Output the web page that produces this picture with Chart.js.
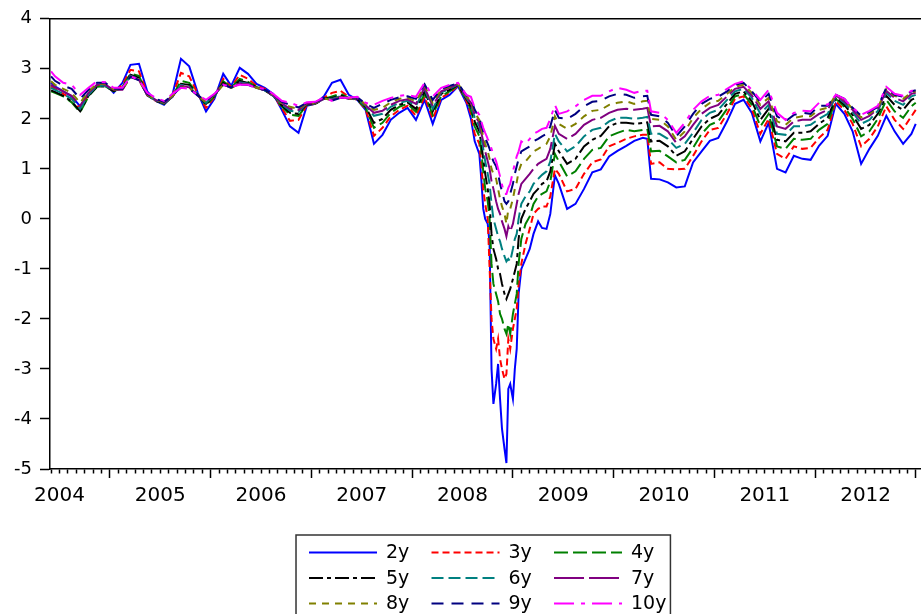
<!DOCTYPE html>
<html>
<head>
<meta charset="utf-8">
<script src="https://cdn.jsdelivr.net/npm/chart.js@4.4.1/dist/chart.umd.min.js"></script>
<style>
  html, body { margin: 0; padding: 0; background: #fff; overflow: hidden; }
  #wrap { width: 922px; height: 614px; position: relative; }
</style>
</head>
<body>
<div id="wrap"><canvas id="breakevenChart"></canvas></div>
<script>
// observation dates (monthly, weekly around the 2008 crash)
const dates = [
  '2004-06-01','2004-06-15','2004-07-15','2004-08-15','2004-09-15','2004-10-15','2004-11-15','2004-12-15',
  '2005-01-15','2005-02-15','2005-03-15','2005-04-15','2005-05-15','2005-06-15','2005-07-15','2005-08-15',
  '2005-09-15','2005-10-15','2005-11-15','2005-12-15','2006-01-15','2006-02-15','2006-03-15','2006-04-15',
  '2006-05-15','2006-06-15','2006-07-15','2006-08-15','2006-09-15','2006-10-15','2006-11-15','2006-12-15',
  '2007-01-15','2007-02-15','2007-03-15','2007-04-15','2007-05-15','2007-06-15','2007-07-15','2007-08-15',
  '2007-09-15','2007-10-15','2007-11-15','2007-12-15','2008-01-15','2008-02-15','2008-03-15','2008-04-15',
  '2008-05-15','2008-06-15','2008-07-15',
  '2008-08-01','2008-08-15','2008-09-01','2008-09-08','2008-09-15','2008-09-22','2008-10-01','2008-10-08',
  '2008-10-15','2008-10-22','2008-11-01','2008-11-08','2008-11-15','2008-11-22','2008-12-01','2008-12-08',
  '2008-12-15','2008-12-22','2009-01-01','2009-01-08','2009-01-15','2009-01-22','2009-02-01','2009-02-15',
  '2009-03-01','2009-03-15','2009-04-01','2009-04-15','2009-05-01','2009-05-15','2009-06-01','2009-06-15',
  '2009-07-15','2009-08-15','2009-09-15','2009-10-15','2009-11-15','2009-12-15','2010-01-15','2010-02-15',
  '2010-03-15','2010-04-15','2010-05-01','2010-05-15','2010-06-15','2010-07-15','2010-08-15','2010-09-15',
  '2010-10-15','2010-11-15','2010-12-15','2011-01-15','2011-02-15','2011-03-15','2011-04-15','2011-05-15',
  '2011-06-15','2011-07-15','2011-08-15','2011-09-15','2011-10-15','2011-11-15','2011-12-15','2012-01-15',
  '2012-02-15','2012-03-15','2012-04-15','2012-05-15','2012-06-15','2012-07-15','2012-08-15','2012-09-15',
  '2012-10-15','2012-11-15','2012-12-15','2012-12-31'
];

const y2 = [
  2.72, 2.65, 2.55, 2.45, 2.25, 2.5, 2.68, 2.7, 2.52, 2.72, 3.08, 3.1, 2.55, 2.36, 2.28, 2.48, 3.2, 3.05, 2.52, 2.15,
  2.4, 2.9, 2.66, 3.02, 2.9, 2.7, 2.62, 2.5, 2.18, 1.85, 1.72, 2.26, 2.3, 2.45, 2.72, 2.78, 2.48, 2.38, 2.18, 1.5,
  1.68, 1.98, 2.12, 2.22, 1.98, 2.38, 1.9, 2.38, 2.48, 2.65, 2.32,
  2.0, 1.55, 1.3, 0.8, 0.2, 0.0, -0.1, -0.5, -3.0, -3.7, -3.3, -2.9, -3.6, -4.2, -4.6, -4.88, -3.4, -3.3, -3.6, -3.0,
  -2.6, -1.5, -1.0, -0.8, -0.6, -0.3, -0.05, -0.18, -0.2, 0.1, 0.87, 0.7,
  0.2, 0.3, 0.6, 0.93, 0.99, 1.25, 1.36, 1.46, 1.56, 1.62, 1.6, 0.8, 0.79, 0.73, 0.63, 0.65, 1.13, 1.35, 1.56, 1.62,
  1.95, 2.3, 2.38, 2.12, 1.55, 1.92, 1.0, 0.93, 1.26, 1.2, 1.18, 1.46, 1.66, 2.3, 2.1, 1.75, 1.1, 1.4, 1.66, 2.06,
  1.75, 1.5, 1.7, 1.9
];
const y3 = [
  2.65, 2.6, 2.5, 2.4, 2.2, 2.48, 2.66, 2.68, 2.54, 2.68, 2.98, 2.95, 2.5, 2.36, 2.3, 2.46, 2.92, 2.85, 2.5, 2.22,
  2.43, 2.8, 2.64, 2.88, 2.8, 2.66, 2.6, 2.48, 2.22, 1.96, 1.98, 2.27, 2.3, 2.42, 2.52, 2.56, 2.44, 2.38, 2.2, 1.66,
  1.82, 2.05, 2.18, 2.26, 2.06, 2.44, 2.0, 2.42, 2.52, 2.66, 2.36,
  2.1, 1.7, 1.5, 1.1, 0.6, 0.3, 0.0, -1.0, -2.0, -2.4, -2.6, -2.4, -2.8, -3.0, -3.2, -3.1, -2.4, -2.6, -2.2, -2.0,
  -1.8, -1.3, -0.9, -0.5, -0.2, 0.1, 0.2, 0.25, 0.25, 0.45, 1.0, 0.9,
  0.55, 0.6, 0.9, 1.13, 1.19, 1.45, 1.52, 1.6, 1.65, 1.68, 1.68, 1.1, 1.13, 1.0, 0.99, 1.0, 1.26, 1.55, 1.78, 1.82,
  2.1, 2.4, 2.45, 2.2, 1.7, 2.0, 1.3, 1.2, 1.45, 1.4, 1.42, 1.62, 1.78, 2.35, 2.18, 1.9, 1.45, 1.6, 1.85, 2.25,
  1.98, 1.8, 2.05, 2.18
];
const y4 = [
  2.55, 2.52, 2.45, 2.33, 2.13, 2.45, 2.64, 2.65, 2.55, 2.64, 2.9, 2.86, 2.48, 2.36, 2.3, 2.45, 2.76, 2.72, 2.48, 2.27,
  2.45, 2.75, 2.63, 2.8, 2.74, 2.64, 2.58, 2.46, 2.25, 2.08, 2.06, 2.28, 2.3, 2.4, 2.45, 2.5, 2.42, 2.38, 2.22, 1.82,
  1.92, 2.12, 2.24, 2.3, 2.14, 2.5, 2.08, 2.46, 2.55, 2.67, 2.38,
  2.18, 1.85, 1.65, 1.35, 0.95, 0.6, 0.35, 0.0, -0.9, -1.3, -1.5, -1.65, -1.9, -2.0, -2.2, -2.3, -2.1, -2.3, -1.9, -1.7,
  -1.5, -0.9, -0.4, -0.1, 0.05, 0.3, 0.45, 0.5, 0.55, 0.75, 1.3, 1.15,
  0.85, 0.95, 1.2, 1.38, 1.42, 1.65, 1.72, 1.78, 1.75, 1.78, 1.8, 1.35, 1.36, 1.25, 1.13, 1.18, 1.42, 1.7, 1.88, 1.95,
  2.2, 2.45, 2.5, 2.28, 1.85, 2.1, 1.45, 1.4, 1.6, 1.58, 1.6, 1.78, 1.9, 2.4, 2.24, 2.0, 1.65, 1.75, 2.0, 2.38,
  2.15, 2.02, 2.25, 2.32
];
const y5 = [
  2.57, 2.54, 2.46, 2.35, 2.15, 2.46, 2.64, 2.65, 2.56, 2.62, 2.88, 2.82, 2.47, 2.36, 2.3, 2.44, 2.7, 2.68, 2.47, 2.3,
  2.46, 2.72, 2.62, 2.76, 2.72, 2.63, 2.57, 2.46, 2.27, 2.12, 2.1, 2.29, 2.3, 2.4, 2.42, 2.47, 2.41, 2.39, 2.24, 1.92,
  2.0, 2.18, 2.28, 2.33, 2.2, 2.55, 2.15, 2.5, 2.58, 2.68, 2.4,
  2.24, 1.95, 1.75, 1.5, 1.2, 0.9, 0.6, 0.3, -0.3, -0.6, -0.8, -1.0, -1.1, -1.3, -1.5, -1.6, -1.5, -1.4, -1.2, -1.05,
  -0.9, -0.4, 0.0, 0.2, 0.35, 0.5, 0.6, 0.7, 0.75, 0.95, 1.5, 1.35,
  1.1, 1.2, 1.45, 1.58, 1.66, 1.85, 1.92, 1.92, 1.9, 1.92, 1.93, 1.55, 1.56, 1.45, 1.26, 1.35, 1.6, 1.85, 2.0, 2.08,
  2.3, 2.5, 2.55, 2.35, 1.98, 2.2, 1.58, 1.55, 1.72, 1.72, 1.75, 1.9, 2.02, 2.43, 2.28, 2.08, 1.8, 1.88, 2.1, 2.46,
  2.28, 2.18, 2.38, 2.42
];
const y6 = [
  2.62, 2.58, 2.5, 2.4, 2.2, 2.48, 2.66, 2.66, 2.57, 2.6, 2.86, 2.8, 2.47, 2.37, 2.31, 2.44, 2.68, 2.65, 2.46, 2.32,
  2.47, 2.7, 2.62, 2.73, 2.7, 2.62, 2.57, 2.46, 2.29, 2.16, 2.14, 2.3, 2.31, 2.4, 2.4, 2.45, 2.4, 2.4, 2.26, 2.06,
  2.1, 2.24, 2.32, 2.36, 2.26, 2.59, 2.2, 2.53, 2.6, 2.69, 2.42,
  2.28, 2.02, 1.85, 1.62, 1.4, 1.15, 0.9, 0.7, 0.3, 0.0, -0.2, -0.35, -0.45, -0.6, -0.75, -0.85, -0.8, -0.85, -0.6, -0.4,
  -0.3, 0.0, 0.3, 0.45, 0.55, 0.7, 0.8, 0.88, 0.95, 1.15, 1.7, 1.55,
  1.35, 1.45, 1.65, 1.78, 1.82, 1.95, 2.02, 2.02, 2.0, 2.02, 2.04, 1.7, 1.7, 1.6, 1.42, 1.5, 1.72, 1.98, 2.12, 2.18,
  2.38, 2.55, 2.6, 2.42, 2.1, 2.28, 1.7, 1.68, 1.85, 1.85, 1.88, 2.0, 2.1, 2.45, 2.32, 2.14, 1.9, 1.98, 2.16, 2.52,
  2.36, 2.28, 2.45, 2.48
];
const y7 = [
  2.68, 2.63, 2.55, 2.46, 2.26, 2.52, 2.68, 2.68, 2.58, 2.58, 2.85, 2.78, 2.47, 2.38, 2.32, 2.45, 2.66, 2.63, 2.46, 2.33,
  2.48, 2.69, 2.62, 2.71, 2.69, 2.62, 2.57, 2.47, 2.31, 2.2, 2.18, 2.3, 2.31, 2.4, 2.38, 2.44, 2.4, 2.41, 2.27, 2.12,
  2.16, 2.28, 2.36, 2.39, 2.3, 2.62, 2.26, 2.55, 2.62, 2.7, 2.44,
  2.32, 2.08, 1.92, 1.72, 1.55, 1.35, 1.15, 1.0, 0.75, 0.6, 0.35, 0.2, 0.1, -0.05, -0.2, -0.35, -0.15, -0.25, -0.1, 0.1,
  0.3, 0.5, 0.7, 0.8, 0.9, 1.0, 1.1, 1.15, 1.2, 1.4, 1.86, 1.7,
  1.6, 1.7, 1.88, 1.98, 2.02, 2.12, 2.18, 2.2, 2.18, 2.2, 2.22, 1.85, 1.86, 1.75, 1.52, 1.65, 1.88, 2.1, 2.22, 2.28,
  2.45, 2.6, 2.64, 2.47, 2.2, 2.35, 1.85, 1.8, 1.95, 1.98, 1.98, 2.1, 2.18, 2.47, 2.35, 2.18, 1.98, 2.06, 2.2, 2.56,
  2.42, 2.35, 2.5, 2.52
];
const y8 = [
  2.75, 2.68, 2.6, 2.52, 2.32, 2.55, 2.7, 2.7, 2.59, 2.58, 2.84, 2.77, 2.48, 2.39, 2.33, 2.46, 2.64, 2.62, 2.46, 2.34,
  2.48, 2.68, 2.62, 2.7, 2.68, 2.62, 2.58, 2.48, 2.32, 2.24, 2.2, 2.31, 2.32, 2.41, 2.37, 2.43, 2.4, 2.42, 2.29, 2.18,
  2.22, 2.33, 2.4, 2.42, 2.35, 2.66, 2.32, 2.58, 2.64, 2.7, 2.45,
  2.36, 2.12, 1.98, 1.8, 1.65, 1.5, 1.35, 1.2, 1.0, 0.9, 0.8, 0.6, 0.4, 0.25, 0.1, -0.1, 0.2, 0.2, 0.4, 0.6,
  0.73, 0.95, 1.1, 1.15, 1.25, 1.35, 1.4, 1.45, 1.5, 1.65, 2.05, 1.9,
  1.8, 1.9, 2.05, 2.16, 2.18, 2.28, 2.32, 2.35, 2.3, 2.35, 2.36, 2.0, 1.98, 1.85, 1.58, 1.75, 2.02, 2.2, 2.32, 2.36,
  2.5, 2.64, 2.68, 2.52, 2.28, 2.42, 1.95, 1.88, 2.02, 2.05, 2.05, 2.18, 2.22, 2.48, 2.38, 2.2, 2.03, 2.1, 2.22, 2.6,
  2.46, 2.4, 2.53, 2.55
];
const y9 = [
  2.85, 2.76, 2.66, 2.6, 2.4, 2.58, 2.72, 2.72, 2.6, 2.6, 2.84, 2.77, 2.5, 2.4, 2.34, 2.47, 2.63, 2.6, 2.47, 2.36,
  2.49, 2.68, 2.63, 2.69, 2.68, 2.62, 2.58, 2.49, 2.34, 2.28, 2.23, 2.32, 2.33, 2.42, 2.36, 2.42, 2.41, 2.43, 2.3, 2.22,
  2.3, 2.38, 2.43, 2.45, 2.4, 2.69, 2.38, 2.6, 2.66, 2.71, 2.47,
  2.4, 2.18, 2.02, 1.88, 1.75, 1.62, 1.5, 1.4, 1.25, 1.15, 1.05, 0.9, 0.7, 0.55, 0.35, 0.3, 0.35, 0.5, 0.7, 0.9,
  1.05, 1.2, 1.35, 1.4, 1.45, 1.55, 1.6, 1.65, 1.7, 1.85, 2.18, 2.02,
  2.0, 2.1, 2.25, 2.34, 2.36, 2.45, 2.5, 2.48, 2.42, 2.45, 2.46, 2.08, 2.05, 1.92, 1.65, 1.85, 2.1, 2.3, 2.4, 2.44,
  2.55, 2.68, 2.72, 2.55, 2.34, 2.5, 2.05, 1.95, 2.08, 2.12, 2.1, 2.26, 2.26, 2.48, 2.4, 2.22, 2.06, 2.14, 2.24, 2.62,
  2.48, 2.44, 2.55, 2.57
];
const y10 = [
  2.95, 2.85, 2.72, 2.68, 2.48, 2.62, 2.75, 2.73, 2.62, 2.62, 2.85, 2.78, 2.52, 2.42, 2.36, 2.5, 2.62, 2.6, 2.48, 2.38,
  2.5, 2.68, 2.64, 2.68, 2.68, 2.62, 2.6, 2.5, 2.36, 2.32, 2.26, 2.33, 2.34, 2.43, 2.36, 2.42, 2.42, 2.44, 2.32, 2.28,
  2.36, 2.42, 2.46, 2.48, 2.44, 2.72, 2.45, 2.62, 2.68, 2.72, 2.48,
  2.44, 2.22, 2.08, 1.95, 1.82, 1.72, 1.6, 1.52, 1.4, 1.28, 1.15, 1.0, 0.85, 0.68, 0.5, 0.5, 0.62, 0.7, 0.95, 1.1,
  1.25, 1.35, 1.55, 1.5, 1.6, 1.7, 1.75, 1.8, 1.82, 2.0, 2.28, 2.1,
  2.15, 2.25, 2.38, 2.46, 2.46, 2.55, 2.62, 2.58, 2.52, 2.56, 2.56, 2.15, 2.12, 1.98, 1.72, 1.92, 2.18, 2.35, 2.46, 2.48,
  2.6, 2.7, 2.75, 2.58, 2.38, 2.58, 2.12, 1.98, 2.12, 2.16, 2.15, 2.32, 2.28, 2.48, 2.4, 2.22, 2.08, 2.16, 2.26, 2.64,
  2.5, 2.46, 2.56, 2.58
];

const seriesNames = ['2y', '3y', '4y', '5y', '6y', '7y', '8y', '9y', '10y'];
const seriesValues = [y2, y3, y4, y5, y6, y7, y8, y9, y10];
const yearLabels = [2004, 2005, 2006, 2007, 2008, 2009, 2010, 2011, 2012];

const colors = ['#0000ff', '#ff0000', '#008000', '#000000', '#008080', '#800080', '#808000', '#000080', '#ff00ff'];
const dashes = [[], [7, 4], [14, 5], [14, 4, 4, 4], [12, 5], [30, 5], [7, 6], [12, 8], [20, 7, 4, 7]];

const FONT = 'DejaVu Sans';
const X_MIN = 2004.406, X_MAX = 2013.04;

function toYear(d) {
  const [y, m, day] = d.split('-').map(Number);
  const dim = new Date(y, m, 0).getDate();
  return y + (m - 1) / 12 + (day - 1) / (dim * 12);
}

// month index (0 = Jan) of a tick value
const monthOf = v => ((Math.round(v * 12) % 12) + 12) % 12;

// boxed 3x3 legend below the plot, EViews style
const boxLegend = {
  id: 'boxLegend',
  afterDraw(chart) {
    const { ctx, chartArea } = chart;
    const colW = 122.5, lineW = 68, rowH = 25.5;
    const cx = (chartArea.left + chartArea.right) / 2;
    const x0 = cx - 176;
    const top = chartArea.bottom + 66;
    ctx.save();
    ctx.font = '19px "' + FONT + '"';
    ctx.textBaseline = 'middle';
    const lastW = ctx.measureText(seriesNames[seriesNames.length - 1]).width;
    ctx.strokeStyle = '#333';
    ctx.lineWidth = 1.5;
    ctx.strokeRect(x0 - 13, top, 2 * colW + lineW + 9 + lastW + 17, rowH * 3 + 12);
    chart.data.datasets.forEach((ds, i) => {
      const col = i % 3, row = Math.floor(i / 3);
      const x = x0 + col * colW;
      const y = top + 17.5 + row * rowH;
      ctx.beginPath();
      ctx.setLineDash(ds.borderDash);
      ctx.strokeStyle = ds.borderColor;
      ctx.lineWidth = 2;
      ctx.moveTo(x, y);
      ctx.lineTo(x + lineW, y);
      ctx.stroke();
      ctx.setLineDash([]);
      ctx.fillStyle = '#000';
      ctx.fillText(ds.label, x + lineW + 9, y + 1);
    });
    ctx.restore();
  }
};

const datasets = seriesNames.map((name, i) => ({
  label: name,
  data: dates.map((d, j) => ({ x: toYear(d), y: seriesValues[i][j] })),
  borderColor: colors[i],
  borderDash: dashes[i],
  borderWidth: 2,
  pointRadius: 0,
  tension: 0,
  fill: false,
  order: seriesNames.length - i
}));

new Chart(document.getElementById('breakevenChart').getContext('2d'), {
  type: 'line',
  data: { datasets },
  options: {
    responsive: true,
    maintainAspectRatio: false,
    animation: false,
    devicePixelRatio: 1,
    layout: { padding: { top: 16, left: 0, right: 0, bottom: 105 } },
    plugins: { legend: { display: false }, tooltip: { enabled: false } },
    scales: {
      x: {
        type: 'linear',
        position: 'bottom',
        min: X_MIN,
        max: X_MAX,
        afterBuildTicks: scale => {
          const ticks = [];
          for (let k = Math.ceil(X_MIN * 12); k <= Math.floor(X_MAX * 12); k++) ticks.push({ value: k / 12 });
          scale.ticks = ticks;
        },
        afterFit: scale => { scale.height = 40; },
        ticks: {
          autoSkip: false,
          maxRotation: 0,
          padding: 6,
          color: '#000',
          font: { family: FONT, size: 20 },
          callback: value => monthOf(value) === 6 ? String(Math.floor(value)) : ''
        },
        grid: {
          drawOnChartArea: false,
          tickLength: 9,
          tickWidth: 1.5,
          tickColor: '#000',
          tickBorderDash: c => monthOf(c.tick.value) === 0 ? [] : [4, 30]
        },
        border: { color: '#000', width: 1.5 }
      },
      xTop: {
        type: 'linear',
        position: 'top',
        min: X_MIN,
        max: X_MAX,
        ticks: { display: false },
        grid: { display: false },
        border: { display: true, color: '#000', width: 1.5 },
        afterFit: scale => { scale.height = 0; }
      },
      y: {
        min: -5,
        max: 4,
        afterFit: scale => { scale.width = 50; },
        ticks: {
          stepSize: 1,
          padding: 8,
          color: '#000',
          font: { family: FONT, size: 18 },
          callback: v => String(v)
        },
        grid: {
          drawOnChartArea: false,
          tickLength: 10,
          tickWidth: 1.5,
          tickColor: '#000'
        },
        border: { color: '#000', width: 1.5 }
      }
    }
  },
  plugins: [boxLegend]
});
</script>
</body>
</html>
